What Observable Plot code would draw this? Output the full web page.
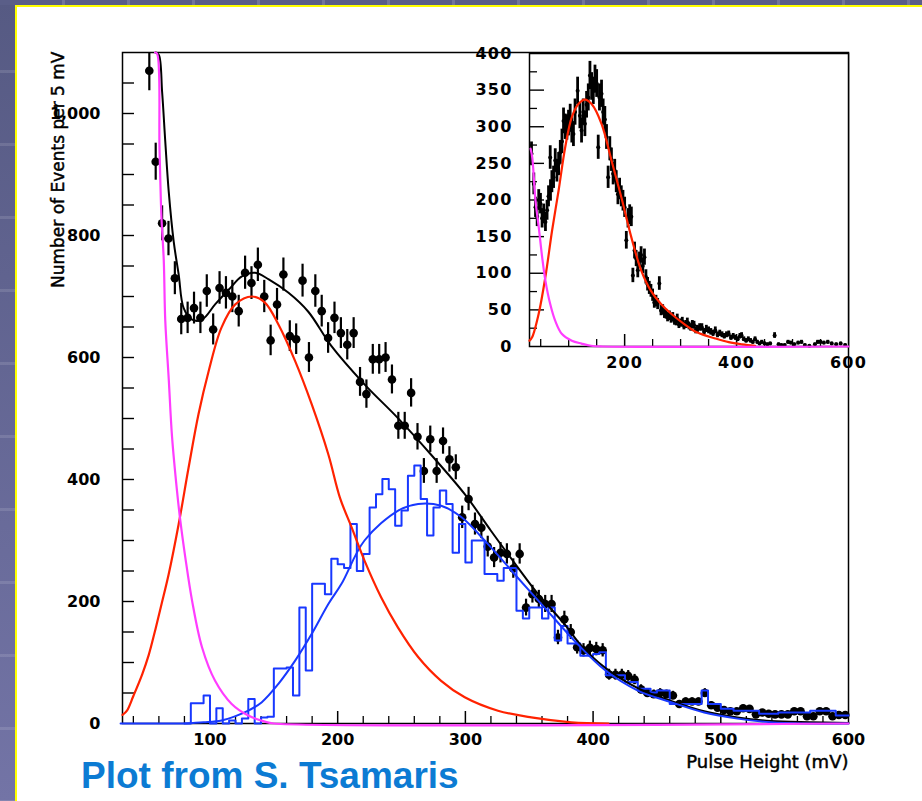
<!DOCTYPE html>
<html><head><meta charset="utf-8">
<script src="https://cdn.jsdelivr.net/npm/d3@7"></script>
<script src="https://cdn.jsdelivr.net/npm/@observablehq/plot@0.6"></script>
<style>
html,body{margin:0;padding:0;background:#fff;}
#page{position:relative;width:922px;height:801px;overflow:hidden;background:#fff;}
#main{position:absolute;left:0;top:0;}
#inset{position:absolute;left:440px;top:40px;}
#lstrip{position:absolute;left:0;top:0;width:15px;height:801px;
  background:repeating-linear-gradient(to bottom, rgba(255,255,255,0) 0px, rgba(255,255,255,0) 70px, rgba(255,255,255,0.12) 70px, rgba(255,255,255,0.12) 73px), linear-gradient(#565a83,#7374a6);}
#tstrip{position:absolute;left:0;top:0;width:922px;height:5px;
  background:repeating-linear-gradient(to right, rgba(255,255,255,0) 0px, rgba(255,255,255,0) 62px, rgba(255,255,255,0.15) 62px, rgba(255,255,255,0.15) 65px), #5a5e88;}
#yl{position:absolute;left:15px;top:5px;width:1.5px;height:796px;background:#ffff00;}
#yt{position:absolute;left:15px;top:5px;width:907px;height:1.5px;background:#ffff00;}
#caption{position:absolute;left:81px;top:757px;font:bold 37px "Liberation Sans",Arial,sans-serif;line-height:37px;color:#0c7bd3;white-space:nowrap;}
.ttl text{stroke:#000;stroke-width:0.45px;}
</style></head>
<body>
<div id="page">
  <div id="main"></div>
  <div id="inset"></div>
  <div id="lstrip"></div><div id="tstrip"></div><div id="yl"></div><div id="yt"></div>
  <div id="caption">Plot from S. Tsamaris</div>
</div>
<script>
// ---------- main plot data ----------
const binWidth = 5;
const blackStart = 50;
const blackCounts = [1070,921,820,795,730,663,665,681,665,709,646,714,706,700,676,739,722,752,700,628,
  687,736,635,630,726,600,709,676,632,665,640,621,640,560,540,597,597,600,564,488,
  488,542,470,414,466,414,463,433,420,338,368,327,321,290,272,280,278,254,278,190,
  212,204,196,196,141,171,150,125,120,124,122,120,80,80,80,78,72,56,50,48,
  50,48,46,32,36,36,36,50,30,26,22,20,20,25,24,15,18,16,15,15,
  15,20,20,12,12,20,20,12,14,14];
const histStart = 30;
const blueCounts = [0,0,0,0,0,0,0,0,0,0,0,33,33,46,0,25,0,5,0,8,
  40,0,10,11,90,90,92,46,190,87,229,229,212,270,261,255,327,250,278,354,
  376,401,384,324,349,406,423,368,308,354,382,360,280,327,264,300,300,245,245,234,
  255,255,185,172,190,190,172,190,136,160,131,131,111,111,114,117,79,79,79,68,
  68,57,57,51,54,54,32,32,32,32,32,54,32,32,24,24,21,21,21,21,
  16,16,16,18,18,18,18,18,21,21,21,21,13,13];

const magX = [57,58.6,60.5,62,63.8,65,67.7,70.3,74.2,76.8,80.7,86,93.75,104,117,130,143,150,600];
const magV = [1230,1098,940,830,760,660,565,470,381,332,272,201,125,70,32,13,3,0,0];
const redX = [31.5,35,40,47,52,57,62,67.7,75.5,83.3,91,99,109,119.8,132.8,143,153.6,166.7,179.7,192.7,201.8,211,221,234,247,263,281,299.5,325.5,351.6,383,412];
const redV = [14,21,45,81,112,152,195,245,327,420,507,578,649,687,700,690,654,594,523,441,370,321,267,207,158,109,70,43,21,10,2,0];
const bluFitX = [80,95,109,120,130,140.6,153.6,166.7,179.7,192.7,203,221,247.4,263,281,297,317.7,341,362,388,409,435,461,487,513,539,565,600];
const bluFitV = [0,2,5,12,21,35,65,103,147,196,229,300,349,360,357,338,294,239,190,130,88,54,35,18,8,2,0,0];
const totFitX = [57.5,60,62.5,65,67.7,71.6,75.5,79.4,86,93.75,104,114.6,125,135.4,146,161.5,177,195,221,247,273,299.5,320,341,357,377.6,390.6,409,435,461,487,513,539,570,600];
const totFitV = [1200,1096,1036,954,872,790,736,681,662,662,687,711,733,739,728,706,675,619,556,501,441,376,316,256,212,163,128,92,58,37,20,10,4,2,1];

const mainXLabels = [100,200,300,400,500,600];
const mainYLabels = [0,200,400,600,800,1000];

// ---------- inset data ----------
const insX = [33.6,37.7,40.7,43.7,46.5,49.6,52.5,55.4,58.5,61.4,64,67,67.5,70,73,76,79,82,85,88,
  90.8,93.8,96.8,99.7,102.7,105.6,108.5,111.4,116,120,123,126,129,132,135,138,141,144,147,150,
  152.8,155,158.7,161.6,164.6,167.6,170.5,173.5,176.4,179.4,182.3,185,188,191,194,197,200,203,206,209,
  212,214.7,217.7,220.6,223.5,226.5,229.4,232.4,235.4,238,241,244,247,250,253,256,259,262,265,268,
  271,274,276.7,280,283,286,289,292,294,297,300,303,306,309,312,315,318,321,324,327,
  330,334,338,342,346,350,354,358,362,366,370,374,378,382,386,390,394,398,402,406,
  409,413,417,421,425,429,433,437,441,445,450,455,460,468,475,480,486,492,497,503,
  510,516,522,530,540,545,550,556,563,570,578,586,594];
const insV = [263,222,190,177,200,195,175,181,170,186,205,258,213,225,231,254,240,249,265,280,
  308,300,299,305,313,295,290,320,349,315,295,320,304,330,340,370,355,349,365,359,
  272,340,345,320,310,286,231,270,255,236,240,225,208,215,205,199,190,145,175,180,
  177,97,131,120,104,118,125,110,122,95,85,80,76,70,60,62,58,86,49,50,
  45,44,40,42,38,40,35,34,38,30,32,34,28,30,33,28,26,30,29,22,
  24,26,26,20,24,22,20,18,22,16,18,16,14,16,17,12,14,12,10,14,
  15,10,8,10,8,6,10,6,4,6,4,3,4,15,3,2,2,6,5,3,
  5,6,2,1,3,6,6,5,6,4,3,4,2];
const insRedX = [30,34.9,46.5,58.4,70.3,82,93.8,105.6,117.4,129,141,158.7,176.5,194,212,229.5,247,265,282.6,306,330,362,386,410,433];
const insRedV = [8,13,45,95,158,213,272,313,331,337,331,304,254,204,149,104,76,58,45,31,19,11,6,3,1];
const insMagX = [32,34.9,40.7,46.5,52.6,58.4,67,76,88,105.6,123,140,160,600];
const insMagV = [270,258,199,163,122,90,58,35,17,8,4,1,0,0];
const insXLabels = [200,400,600];
const insYLabels = [0,50,100,150,200,250,300,350,400];

// ---------- colours ----------
const RED = "#ff2200", MAG = "#ff3cff", BLUE = "#1838ff", BLK = "#000";

// ---------- build tables ----------
const blackData = blackCounts.map((v, i) => ({
  x: blackStart + binWidth * (i + 0.5), x1: blackStart + binWidth * i, x2: blackStart + binWidth * (i + 1),
  v, lo: v - Math.sqrt(v), hi: v + Math.sqrt(v)}));
const histData = blueCounts.map((v, i) => ({x: histStart + binWidth * i, v}));
histData.push({x: histStart + binWidth * blueCounts.length, v: blueCounts[blueCounts.length - 1]});
const pairs = (X, V) => X.map((x, i) => ({x, v: V[i]}));

const W = 922, H = 801, mL = 122, mR = 74, mT = 52, mB = 78;
const fw = W - mL - mR, fh = H - mT - mB;
const xMinor = d3.range(40, 600, 20).filter(d => d % 100 !== 0);
const xMajor = [100,200,300,400,500];
const yTicks = d3.range(50, 1100, 50);
const CURVE = "catmull-rom";

const main = Plot.plot({
  width: W, height: H, marginLeft: mL, marginRight: mR, marginTop: mT, marginBottom: mB,
  x: {domain: [31.5, 600], label: null},
  y: {domain: [0, 1100], label: null, clamp: true},
  style: {fontFamily: "DejaVu Sans", fontSize: "16px", background: "white", color: "black", overflow: "visible"},
  marks: [
    Plot.frame({stroke: BLK, strokeWidth: 1.5}),
    Plot.ruleX(xMinor, {x: d => d, insetTop: fh - 7, stroke: BLK, strokeWidth: 1.3}),
    Plot.ruleX(xMajor, {x: d => d, insetTop: fh - 12, stroke: BLK, strokeWidth: 1.5}),
    Plot.ruleY(yTicks, {y: d => d, insetRight: fw - 12, stroke: BLK, strokeWidth: 1.4}),
    Plot.ruleX(blackData, {x: "x", y1: "lo", y2: "hi", stroke: BLK, strokeWidth: 2.2}),
    Plot.ruleY(blackData, {y: "v", x1: "x1", x2: "x2", stroke: BLK, strokeWidth: 2.8}),
    Plot.dot(blackData, {x: "x", y: "v", r: 4.3, fill: BLK, stroke: null}),
    Plot.lineY(histData, {x: "x", y: "v", curve: "step-after", stroke: BLUE, strokeWidth: 2}),
    Plot.line(pairs(totFitX, totFitV), {x: "x", y: "v", curve: CURVE, stroke: BLK, strokeWidth: 2}),
    Plot.line(pairs(bluFitX, bluFitV), {x: "x", y: "v", curve: CURVE, stroke: BLUE, strokeWidth: 2}),
    Plot.line(pairs(redX, redV), {x: "x", y: "v", curve: CURVE, stroke: RED, strokeWidth: 2.2}),
    Plot.line(pairs(magX, magV), {x: "x", y: "v", curve: CURVE, stroke: MAG, strokeWidth: 2.2}),
    Plot.axisX(mainXLabels, {tickSize: 0, tickPadding: 10, label: null, fontWeight: "bold"}),
    Plot.axisY(mainYLabels, {tickSize: 0, tickPadding: 22, label: null, fontWeight: "bold"}),
    Plot.text(["Number of Events per 5 mV"], {text: d => d, frameAnchor: "top-left", rotate: -90, textAnchor: "end", dx: -71, dy: -1, fontSize: 17, className: "ttl"}),
    Plot.text(["Pulse Height (mV)"], {text: d => d, frameAnchor: "bottom-right", textAnchor: "end", dy: 44, fontSize: 18, className: "ttl"})
  ]
});
document.getElementById("main").appendChild(main);

// ---------- inset ----------
const iW = 440, iH = 350, iL = 89, iR = 32, iT = 13, iB = 44;
const ifw = iW - iL - iR, ifh = iH - iT - iB;
const insData = insX.map((x, i) => ({x, v: insV[i], lo: insV[i] - Math.sqrt(insV[i]), hi: insV[i] + Math.sqrt(insV[i])}));
const ixMinor = d3.range(50, 600, 50).filter(d => d % 200 !== 0);
const ixMajor = [200, 400];
const iyMajor = d3.range(50, 400, 50);
const iyMinor = d3.range(25, 400, 50);

const inset = Plot.plot({
  width: iW, height: iH, marginLeft: iL, marginRight: iR, marginTop: iT, marginBottom: iB,
  x: {domain: [30, 600], label: null},
  y: {domain: [0, 400], label: null, clamp: true},
  style: {fontFamily: "DejaVu Sans", fontSize: "16px", letterSpacing: "1.2px", background: "transparent", color: "black", overflow: "visible"},
  marks: [
    Plot.frame({fill: "white", stroke: BLK, strokeWidth: 1.5}),
    Plot.ruleX(ixMinor, {x: d => d, insetTop: ifh - 7, stroke: BLK, strokeWidth: 1.3}),
    Plot.ruleX(ixMajor, {x: d => d, insetTop: ifh - 12, stroke: BLK, strokeWidth: 1.5}),
    Plot.ruleY(iyMajor, {y: d => d, insetRight: ifw - 15, stroke: BLK, strokeWidth: 1.4}),
    Plot.ruleY(iyMinor, {y: d => d, insetRight: ifw - 8, stroke: BLK, strokeWidth: 1.3}),
    Plot.ruleX(insData, {x: "x", y1: "lo", y2: "hi", stroke: BLK, strokeWidth: 2.8}),
    Plot.dot(insData, {x: "x", y: "v", r: 2, fill: BLK, stroke: null}),
    Plot.line(pairs(insRedX, insRedV), {x: "x", y: "v", curve: CURVE, stroke: RED, strokeWidth: 2.2}),
    Plot.line(pairs(insMagX, insMagV), {x: "x", y: "v", curve: CURVE, stroke: MAG, strokeWidth: 2.2}),
    Plot.axisX(insXLabels, {tickSize: 0, tickPadding: 10, label: null, fontWeight: "bold"}),
    Plot.axisY(insYLabels, {tickSize: 0, tickPadding: 17, label: null, fontWeight: "bold"})
  ]
});
document.getElementById("inset").appendChild(inset);
</script>
</body></html>
